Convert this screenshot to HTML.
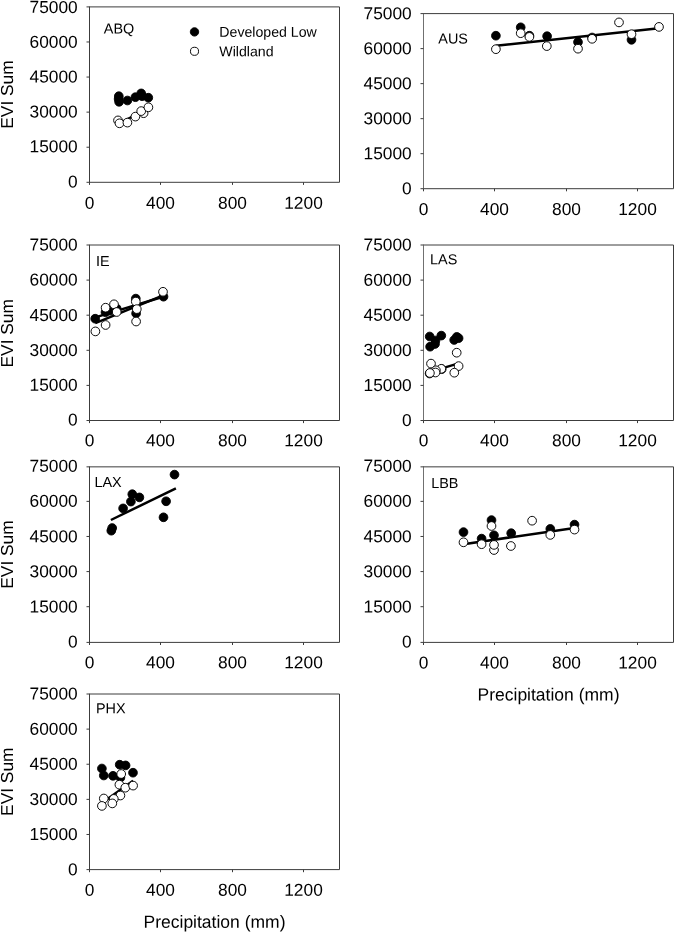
<!DOCTYPE html>
<html><head><meta charset="utf-8"><title>EVI Sum vs Precipitation</title>
<style>html,body{margin:0;padding:0;background:#fff}svg{display:block}text{text-rendering:geometricPrecision;font-family:"Liberation Sans",Arial,Helvetica,sans-serif;fill:#000}.t{font-size:17.33px}.s{font-size:14.40px}.g{font-size:14.15px}.p{font-size:17.5px}.ax{stroke:#3c3c3c;stroke-width:1;fill:none}.ln{stroke:#000;stroke-width:2.5;stroke-linecap:butt}.b{fill:#000;stroke:#000;stroke-width:0.9}.w{fill:#fff;stroke:#000;stroke-width:0.95}</style></head><body>
<svg width="674" height="932" viewBox="0 0 674 932">
<rect width="674" height="932" fill="#fff"/>
<g>
<path class="ax" d="M89.00 6.90H339.50V182.30H89.00"/>
<path class="ax" style="stroke:#3c3c3c" d="M89.50 6.90V182.30"/>
<path class="ax" d="M89.50 182.30h-3.0M89.50 147.22h-3.0M89.50 112.14h-3.0M89.50 77.06h-3.0M89.50 41.98h-3.0M89.50 6.90h-3.0M89.50 182.30v2.6M160.50 182.30v2.6M232.50 182.30v2.6M303.50 182.30v2.6"/>
<text class="t" text-anchor="end" transform="translate(77.70 187.45) rotate(0.030)">0</text>
<text class="t" text-anchor="end" transform="translate(77.70 152.37) rotate(0.030)">15000</text>
<text class="t" text-anchor="end" transform="translate(77.70 117.44) rotate(0.030)">30000</text>
<text class="t" text-anchor="end" transform="translate(77.70 82.56) rotate(0.030)">45000</text>
<text class="t" text-anchor="end" transform="translate(77.70 47.68) rotate(0.030)">60000</text>
<text class="t" text-anchor="end" transform="translate(77.70 12.90) rotate(0.030)">75000</text>
<text class="t" text-anchor="middle" transform="translate(89.50 208.70) rotate(0.030)">0</text>
<text class="t" text-anchor="middle" transform="translate(160.50 208.70) rotate(0.030)">400</text>
<text class="t" text-anchor="middle" transform="translate(232.50 208.70) rotate(0.030)">800</text>
<text class="t" text-anchor="middle" transform="translate(303.50 208.70) rotate(0.030)">1200</text>
<line class="ln" x1="118.0" y1="124.0" x2="148.8" y2="108.2"/>
<circle class="b" cx="118.8" cy="96.2" r="4.35"/>
<circle class="b" cx="118.6" cy="99.0" r="4.35"/>
<circle class="b" cx="119.1" cy="101.8" r="4.35"/>
<circle class="b" cx="127.4" cy="100.5" r="4.35"/>
<circle class="b" cx="135.4" cy="97.2" r="4.35"/>
<circle class="b" cx="141.2" cy="93.4" r="4.35"/>
<circle class="b" cx="142.1" cy="96.2" r="4.35"/>
<circle class="b" cx="148.3" cy="97.7" r="4.35"/>
<circle class="w" cx="118.0" cy="120.4" r="4.35"/>
<circle class="w" cx="119.5" cy="123.3" r="4.35"/>
<circle class="w" cx="127.4" cy="122.6" r="4.35"/>
<circle class="w" cx="135.4" cy="116.6" r="4.35"/>
<circle class="w" cx="143.6" cy="113.2" r="4.35"/>
<circle class="w" cx="141.2" cy="111.1" r="4.35"/>
<circle class="w" cx="148.4" cy="107.3" r="4.35"/>
<text class="s" transform="translate(103.80 33.60) rotate(0.030)">ABQ</text>
</g>
<g>
<path class="ax" d="M423.00 13.60H673.50V188.70H423.00"/>
<path class="ax" style="stroke:#707070" d="M423.50 13.60V188.70"/>
<path class="ax" d="M423.50 188.70h-3.0M423.50 153.68h-3.0M423.50 118.66h-3.0M423.50 83.64h-3.0M423.50 48.62h-3.0M423.50 13.60h-3.0M423.50 188.70v2.6M494.50 188.70v2.6M566.50 188.70v2.6M637.50 188.70v2.6"/>
<text class="t" text-anchor="end" transform="translate(411.70 194.30) rotate(0.030)">0</text>
<text class="t" text-anchor="end" transform="translate(411.70 159.28) rotate(0.030)">15000</text>
<text class="t" text-anchor="end" transform="translate(411.70 124.26) rotate(0.030)">30000</text>
<text class="t" text-anchor="end" transform="translate(411.70 89.24) rotate(0.030)">45000</text>
<text class="t" text-anchor="end" transform="translate(411.70 54.22) rotate(0.030)">60000</text>
<text class="t" text-anchor="end" transform="translate(411.70 19.20) rotate(0.030)">75000</text>
<text class="t" text-anchor="middle" transform="translate(423.50 215.10) rotate(0.030)">0</text>
<text class="t" text-anchor="middle" transform="translate(494.50 215.10) rotate(0.030)">400</text>
<text class="t" text-anchor="middle" transform="translate(566.50 215.10) rotate(0.030)">800</text>
<text class="t" text-anchor="middle" transform="translate(637.50 215.10) rotate(0.030)">1200</text>
<line class="ln" x1="495.9" y1="45.8" x2="659.0" y2="28.2"/>
<circle class="b" cx="495.9" cy="35.7" r="4.35"/>
<circle class="b" cx="520.7" cy="27.3" r="4.35"/>
<circle class="b" cx="529.4" cy="35.7" r="4.35"/>
<circle class="b" cx="547.1" cy="36.2" r="4.35"/>
<circle class="b" cx="578.0" cy="42.1" r="4.35"/>
<circle class="b" cx="592.1" cy="37.5" r="4.35"/>
<circle class="b" cx="631.5" cy="39.8" r="4.35"/>
<circle class="w" cx="495.9" cy="49.2" r="4.35"/>
<circle class="w" cx="520.7" cy="33.2" r="4.35"/>
<circle class="w" cx="529.4" cy="36.9" r="4.35"/>
<circle class="w" cx="546.8" cy="46.1" r="4.35"/>
<circle class="w" cx="578.0" cy="48.7" r="4.35"/>
<circle class="w" cx="592.1" cy="38.8" r="4.35"/>
<circle class="w" cx="619.0" cy="22.4" r="4.35"/>
<circle class="w" cx="631.5" cy="34.2" r="4.35"/>
<circle class="w" cx="659.0" cy="26.9" r="4.35"/>
<text class="s" transform="translate(438.30 43.50) rotate(0.030)">AUS</text>
</g>
<g>
<path class="ax" d="M89.00 245.00H339.50V420.50H89.00"/>
<path class="ax" style="stroke:#3c3c3c" d="M89.50 245.00V420.50"/>
<path class="ax" d="M89.50 420.50h-3.0M89.50 385.40h-3.0M89.50 350.30h-3.0M89.50 315.20h-3.0M89.50 280.10h-3.0M89.50 245.00h-3.0M89.50 420.50v2.6M160.50 420.50v2.6M232.50 420.50v2.6M303.50 420.50v2.6"/>
<text class="t" text-anchor="end" transform="translate(77.70 425.60) rotate(0.030)">0</text>
<text class="t" text-anchor="end" transform="translate(77.70 390.80) rotate(0.030)">15000</text>
<text class="t" text-anchor="end" transform="translate(77.70 356.00) rotate(0.030)">30000</text>
<text class="t" text-anchor="end" transform="translate(77.70 321.10) rotate(0.030)">45000</text>
<text class="t" text-anchor="end" transform="translate(77.70 285.60) rotate(0.030)">60000</text>
<text class="t" text-anchor="end" transform="translate(77.70 250.50) rotate(0.030)">75000</text>
<text class="t" text-anchor="middle" transform="translate(89.50 446.30) rotate(0.030)">0</text>
<text class="t" text-anchor="middle" transform="translate(160.50 446.30) rotate(0.030)">400</text>
<text class="t" text-anchor="middle" transform="translate(232.50 446.30) rotate(0.030)">800</text>
<text class="t" text-anchor="middle" transform="translate(303.50 446.30) rotate(0.030)">1200</text>
<line class="ln" x1="95.3" y1="317.4" x2="163.2" y2="296.8"/>
<line class="ln" x1="95.3" y1="323.2" x2="163.2" y2="295.4"/>
<circle class="b" cx="95.2" cy="318.7" r="4.35"/>
<circle class="b" cx="105.5" cy="312.2" r="4.35"/>
<circle class="b" cx="110.0" cy="310.7" r="4.35"/>
<circle class="b" cx="116.7" cy="308.5" r="4.35"/>
<circle class="b" cx="135.8" cy="298.6" r="4.35"/>
<circle class="b" cx="136.1" cy="313.4" r="4.35"/>
<circle class="b" cx="163.5" cy="296.7" r="4.35"/>
<circle class="w" cx="95.4" cy="331.4" r="4.35"/>
<circle class="w" cx="105.6" cy="307.7" r="4.35"/>
<circle class="w" cx="105.6" cy="325.0" r="4.35"/>
<circle class="w" cx="114.0" cy="304.3" r="4.35"/>
<circle class="w" cx="116.7" cy="312.0" r="4.35"/>
<circle class="w" cx="135.8" cy="301.6" r="4.35"/>
<circle class="w" cx="136.8" cy="309.1" r="4.35"/>
<circle class="w" cx="136.1" cy="321.5" r="4.35"/>
<circle class="w" cx="163.0" cy="291.8" r="4.35"/>
<text class="s" transform="translate(96.00 266.10) rotate(0.030)">IE</text>
</g>
<g>
<path class="ax" d="M423.00 245.00H673.50V420.50H423.00"/>
<path class="ax" style="stroke:#707070" d="M423.50 245.00V420.50"/>
<path class="ax" d="M423.50 420.50h-3.0M423.50 385.40h-3.0M423.50 350.30h-3.0M423.50 315.20h-3.0M423.50 280.10h-3.0M423.50 245.00h-3.0M423.50 420.50v2.6M494.50 420.50v2.6M566.50 420.50v2.6M637.50 420.50v2.6"/>
<text class="t" text-anchor="end" transform="translate(411.70 426.10) rotate(0.030)">0</text>
<text class="t" text-anchor="end" transform="translate(411.70 391.00) rotate(0.030)">15000</text>
<text class="t" text-anchor="end" transform="translate(411.70 355.90) rotate(0.030)">30000</text>
<text class="t" text-anchor="end" transform="translate(411.70 320.80) rotate(0.030)">45000</text>
<text class="t" text-anchor="end" transform="translate(411.70 285.70) rotate(0.030)">60000</text>
<text class="t" text-anchor="end" transform="translate(411.70 250.60) rotate(0.030)">75000</text>
<text class="t" text-anchor="middle" transform="translate(423.50 446.30) rotate(0.030)">0</text>
<text class="t" text-anchor="middle" transform="translate(494.50 446.30) rotate(0.030)">400</text>
<text class="t" text-anchor="middle" transform="translate(566.50 446.30) rotate(0.030)">800</text>
<text class="t" text-anchor="middle" transform="translate(637.50 446.30) rotate(0.030)">1200</text>
<line class="ln" x1="430.0" y1="371.9" x2="458.6" y2="363.4"/>
<circle class="b" cx="429.7" cy="336.5" r="4.35"/>
<circle class="b" cx="441.3" cy="335.6" r="4.35"/>
<circle class="b" cx="435.5" cy="340.5" r="4.35"/>
<circle class="b" cx="430.1" cy="346.7" r="4.35"/>
<circle class="b" cx="435.0" cy="344.0" r="4.35"/>
<circle class="b" cx="454.2" cy="340.0" r="4.35"/>
<circle class="b" cx="456.8" cy="336.9" r="4.35"/>
<circle class="b" cx="458.6" cy="338.2" r="4.35"/>
<circle class="w" cx="456.7" cy="352.7" r="4.35"/>
<circle class="w" cx="431.0" cy="363.6" r="4.35"/>
<circle class="w" cx="458.6" cy="366.1" r="4.35"/>
<circle class="w" cx="441.7" cy="369.2" r="4.35"/>
<circle class="w" cx="441.3" cy="368.8" r="4.35"/>
<circle class="w" cx="429.6" cy="373.5" r="4.35"/>
<circle class="w" cx="435.9" cy="370.3" r="4.35"/>
<circle class="w" cx="435.5" cy="372.5" r="4.35"/>
<circle class="w" cx="429.9" cy="373.0" r="4.35"/>
<circle class="w" cx="454.3" cy="372.7" r="4.35"/>
<text class="s" transform="translate(430.10 264.30) rotate(0.030)">LAS</text>
</g>
<g>
<path class="ax" d="M89.00 466.85H339.50V642.40H89.00"/>
<path class="ax" style="stroke:#3c3c3c" d="M89.50 466.85V642.40"/>
<path class="ax" d="M89.50 642.40h-3.0M89.50 606.69h-3.0M89.50 571.58h-3.0M89.50 536.47h-3.0M89.50 501.36h-3.0M89.50 466.85h-3.0M89.50 642.40v2.6M160.50 642.40v2.6M232.50 642.40v2.6M303.50 642.40v2.6"/>
<text class="t" text-anchor="end" transform="translate(77.70 647.60) rotate(0.030)">0</text>
<text class="t" text-anchor="end" transform="translate(77.70 612.49) rotate(0.030)">15000</text>
<text class="t" text-anchor="end" transform="translate(77.70 577.38) rotate(0.030)">30000</text>
<text class="t" text-anchor="end" transform="translate(77.70 542.27) rotate(0.030)">45000</text>
<text class="t" text-anchor="end" transform="translate(77.70 506.86) rotate(0.030)">60000</text>
<text class="t" text-anchor="end" transform="translate(77.70 471.75) rotate(0.030)">75000</text>
<text class="t" text-anchor="middle" transform="translate(89.50 668.20) rotate(0.030)">0</text>
<text class="t" text-anchor="middle" transform="translate(160.50 668.20) rotate(0.030)">400</text>
<text class="t" text-anchor="middle" transform="translate(232.50 668.20) rotate(0.030)">800</text>
<text class="t" text-anchor="middle" transform="translate(303.50 668.20) rotate(0.030)">1200</text>
<line class="ln" x1="110.9" y1="520.0" x2="175.9" y2="488.3"/>
<circle class="b" cx="174.5" cy="474.6" r="4.35"/>
<circle class="b" cx="132.3" cy="494.2" r="4.35"/>
<circle class="b" cx="139.4" cy="497.4" r="4.35"/>
<circle class="b" cx="130.9" cy="501.6" r="4.35"/>
<circle class="b" cx="123.1" cy="508.4" r="4.35"/>
<circle class="b" cx="166.1" cy="501.3" r="4.35"/>
<circle class="b" cx="163.5" cy="517.3" r="4.35"/>
<circle class="b" cx="112.2" cy="528.0" r="4.35"/>
<circle class="b" cx="111.3" cy="530.7" r="4.35"/>
<text class="s" transform="translate(94.50 487.10) rotate(0.030)">LAX</text>
</g>
<g>
<path class="ax" d="M423.00 466.85H673.50V642.40H423.00"/>
<path class="ax" style="stroke:#707070" d="M423.50 466.85V642.40"/>
<path class="ax" d="M423.50 642.40h-3.0M423.50 606.69h-3.0M423.50 571.58h-3.0M423.50 536.47h-3.0M423.50 501.36h-3.0M423.50 466.85h-3.0M423.50 642.40v2.6M494.50 642.40v2.6M566.50 642.40v2.6M637.50 642.40v2.6"/>
<text class="t" text-anchor="end" transform="translate(411.70 647.60) rotate(0.030)">0</text>
<text class="t" text-anchor="end" transform="translate(411.70 612.49) rotate(0.030)">15000</text>
<text class="t" text-anchor="end" transform="translate(411.70 577.38) rotate(0.030)">30000</text>
<text class="t" text-anchor="end" transform="translate(411.70 542.27) rotate(0.030)">45000</text>
<text class="t" text-anchor="end" transform="translate(411.70 506.86) rotate(0.030)">60000</text>
<text class="t" text-anchor="end" transform="translate(411.70 471.65) rotate(0.030)">75000</text>
<text class="t" text-anchor="middle" transform="translate(423.50 668.50) rotate(0.030)">0</text>
<text class="t" text-anchor="middle" transform="translate(494.50 668.50) rotate(0.030)">400</text>
<text class="t" text-anchor="middle" transform="translate(566.50 668.50) rotate(0.030)">800</text>
<text class="t" text-anchor="middle" transform="translate(637.50 668.50) rotate(0.030)">1200</text>
<line class="ln" x1="463.5" y1="544.2" x2="574.5" y2="527.9"/>
<circle class="b" cx="463.5" cy="532.1" r="4.35"/>
<circle class="b" cx="481.6" cy="538.6" r="4.35"/>
<circle class="b" cx="491.5" cy="520.1" r="4.35"/>
<circle class="b" cx="494.0" cy="535.3" r="4.35"/>
<circle class="b" cx="511.2" cy="533.2" r="4.35"/>
<circle class="b" cx="550.3" cy="528.9" r="4.35"/>
<circle class="b" cx="574.5" cy="524.6" r="4.35"/>
<circle class="w" cx="463.5" cy="542.3" r="4.35"/>
<circle class="w" cx="481.6" cy="544.2" r="4.35"/>
<circle class="w" cx="491.5" cy="526.0" r="4.35"/>
<circle class="w" cx="494.0" cy="550.0" r="4.35"/>
<circle class="w" cx="494.0" cy="544.9" r="4.35"/>
<circle class="w" cx="510.9" cy="546.0" r="4.35"/>
<circle class="w" cx="532.1" cy="520.7" r="4.35"/>
<circle class="w" cx="550.3" cy="534.9" r="4.35"/>
<circle class="w" cx="574.5" cy="529.6" r="4.35"/>
<text class="s" transform="translate(431.20 488.10) rotate(0.030)">LBB</text>
</g>
<g>
<path class="ax" d="M89.00 694.00H339.50V869.60H89.00"/>
<path class="ax" style="stroke:#3c3c3c" d="M89.50 694.00V869.60"/>
<path class="ax" d="M89.50 869.60h-3.0M89.50 834.48h-3.0M89.50 799.36h-3.0M89.50 764.24h-3.0M89.50 729.12h-3.0M89.50 694.00h-3.0M89.50 869.60v2.6M160.50 869.60v2.6M232.50 869.60v2.6M303.50 869.60v2.6"/>
<text class="t" text-anchor="end" transform="translate(77.70 875.20) rotate(0.030)">0</text>
<text class="t" text-anchor="end" transform="translate(77.70 840.08) rotate(0.030)">15000</text>
<text class="t" text-anchor="end" transform="translate(77.70 804.96) rotate(0.030)">30000</text>
<text class="t" text-anchor="end" transform="translate(77.70 769.84) rotate(0.030)">45000</text>
<text class="t" text-anchor="end" transform="translate(77.70 734.72) rotate(0.030)">60000</text>
<text class="t" text-anchor="end" transform="translate(77.70 699.60) rotate(0.030)">75000</text>
<text class="t" text-anchor="middle" transform="translate(89.50 895.70) rotate(0.030)">0</text>
<text class="t" text-anchor="middle" transform="translate(160.50 895.70) rotate(0.030)">400</text>
<text class="t" text-anchor="middle" transform="translate(232.50 895.70) rotate(0.030)">800</text>
<text class="t" text-anchor="middle" transform="translate(303.50 895.70) rotate(0.030)">1200</text>
<line class="ln" x1="101.9" y1="803.1" x2="133.1" y2="780.8"/>
<circle class="b" cx="101.9" cy="768.5" r="4.35"/>
<circle class="b" cx="103.8" cy="775.5" r="4.35"/>
<circle class="b" cx="113.0" cy="775.8" r="4.35"/>
<circle class="b" cx="119.7" cy="764.7" r="4.35"/>
<circle class="b" cx="125.6" cy="765.4" r="4.35"/>
<circle class="b" cx="133.0" cy="772.7" r="4.35"/>
<circle class="b" cx="120.4" cy="777.7" r="4.35"/>
<circle class="w" cx="121.2" cy="774.0" r="4.35"/>
<circle class="w" cx="119.4" cy="784.7" r="4.35"/>
<circle class="w" cx="125.3" cy="787.7" r="4.35"/>
<circle class="w" cx="133.1" cy="785.6" r="4.35"/>
<circle class="w" cx="120.4" cy="795.5" r="4.35"/>
<circle class="w" cx="113.8" cy="798.9" r="4.35"/>
<circle class="w" cx="103.8" cy="798.5" r="4.35"/>
<circle class="w" cx="112.3" cy="803.4" r="4.35"/>
<circle class="w" cx="101.9" cy="805.9" r="4.35"/>
<text class="s" transform="translate(96.00 713.25) rotate(0.030)">PHX</text>
</g>
<circle class="b" cx="194.5" cy="31.9" r="4.2"/><circle class="w" cx="194.5" cy="51.3" r="4.05"/>
<text class="s g" transform="translate(219.30 36.80) rotate(0.030)">Developed Low</text>
<text class="s g" transform="translate(219.30 56.20) rotate(0.030)">Wildland</text>
<text class="t" text-anchor="middle" transform="translate(13.4 94.5) rotate(-90)">EVI Sum</text>
<text class="t" text-anchor="middle" transform="translate(13.4 333.3) rotate(-90)">EVI Sum</text>
<text class="t" text-anchor="middle" transform="translate(13.4 554.5) rotate(-90)">EVI Sum</text>
<text class="t" text-anchor="middle" transform="translate(13.4 781.7) rotate(-90)">EVI Sum</text>
<text class="t p" text-anchor="middle" transform="translate(214.50 927.70) rotate(0.030)">Precipitation (mm)</text>
<text class="t p" text-anchor="middle" transform="translate(548.50 700.50) rotate(0.030)">Precipitation (mm)</text>
</svg></body></html>
